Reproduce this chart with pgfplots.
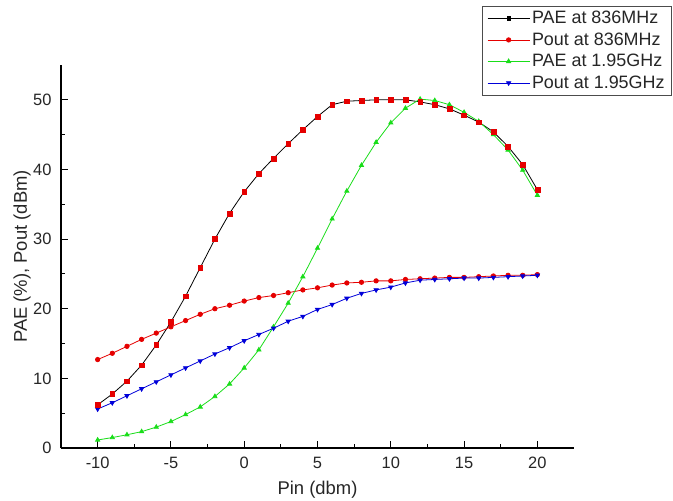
\documentclass[border=0pt]{standalone}
\usepackage{pgfplots}
\usepackage{pgfplotstable}
\pgfplotsset{compat=1.18}
\usepackage{fontspec}
\setmainfont{Liberation Sans}

% Pin  PAE836  Pout836  PAE195  Pout195
\pgfplotstableread{
x a b c d
-10 6.2 12.7 1.15 5.6
-9 7.75 13.6 1.5 6.5
-8 9.6 14.6 1.9 7.5
-7 11.9 15.6 2.35 8.5
-6 14.8 16.5 3.0 9.5
-5 18.1 17.4 3.8 10.5
-4 21.8 18.3 4.8 11.5
-3 25.9 19.2 5.9 12.5
-2 30.0 20.0 7.4 13.5
-1 33.7 20.5 9.2 14.4
0 36.8 21.1 11.5 15.4
1 39.4 21.6 14.1 16.3
2 41.6 21.9 17.4 17.2
3 43.7 22.3 20.8 18.2
4 45.7 22.7 24.6 18.9
5 47.6 23.0 28.7 19.9
6 49.3 23.4 32.9 20.6
7 49.8 23.7 36.9 21.5
8 49.9 23.8 40.6 22.2
9 50.0 24.0 43.9 22.7
10 50.0 24.0 46.7 23.1
11 50.0 24.2 48.8 23.7
12 49.7 24.3 50.1 24.1
13 49.3 24.4 49.9 24.2
14 48.7 24.5 49.3 24.3
15 47.8 24.5 48.2 24.4
16 46.8 24.6 46.9 24.4
17 45.4 24.7 45.0 24.5
18 43.3 24.8 42.8 24.6
19 40.7 24.8 39.9 24.7
20 37.1 24.9 36.3 24.8
}\datatable

\begin{document}
\begin{tikzpicture}
\begin{axis}[
    at={(61bp,53bp)}, anchor=south west,
    scale only axis,
    width=513bp, height=383bp,
    axis lines=left,
    axis line style={-, line width=1.1pt},
    xmin=-12.5, xmax=22.5,
    ymin=0, ymax=55,
    xtick={-10,-5,0,5,10,15,20},
    ytick={0,10,20,30,40,50},
    minor x tick num=1,
    minor y tick num=1,
    tick align=inside,
    major tick length=7bp,
    minor tick length=4bp,
    tick style={black, line width=0.9pt},
    /pgf/number format/assume math mode=true,
    ticklabel style={font=\fontsize{16.5}{19}\selectfont, text=black!85},
    yticklabel style={xshift=-6bp},
    xticklabel style={yshift=-6bp},
    xlabel={Pin (dbm)},
    ylabel={PAE (\%), Pout (dBm)},
    label style={font=\fontsize{18.5}{21}\selectfont, text=black!85},
    xlabel style={at={(axis description cs:0.5,-0.11)}, anchor=center},
    ylabel style={at={(axis description cs:-0.076,0.5)}, anchor=center},
    legend style={at={(axis description cs:1.191,1.154)}, anchor=north east,
        font=\fontsize{18}{21}\selectfont, text=black!85, draw=black!70, line width=0.8pt,
        inner xsep=5bp, inner ysep=3bp, row sep=3.5bp},
    legend cell align=left,
    legend image code/.code={
        \draw[mark repeat=2,mark phase=2] plot coordinates {(0bp,0bp) (21bp,0bp) (42bp,0bp)};
    },
]
\addplot[black, line width=0.8pt, mark=square*, mark size=1.6pt, mark options={solid}]
    table[x=x, y=a] {\datatable};
\addlegendentry{PAE at 836MHz}
\addplot[red!90!black, line width=0.8pt, mark=*, mark size=2.2pt]
    table[x=x, y=b] {\datatable};
\addlegendentry{Pout at 836MHz}
\addplot[green!85!black!90!white, line width=0.8pt, mark=triangle*, mark size=2.4pt]
    table[x=x, y=c] {\datatable};
\addlegendentry{PAE at 1.95GHz}
\addplot[blue!85!black, line width=0.8pt, mark=triangle*, mark size=2.4pt, mark options={rotate=180}]
    table[x=x, y=d] {\datatable};
\addlegendentry{Pout at 1.95GHz}
\addplot[only marks, red!90!black, mark=square*, mark size=2.4pt, forget plot]
    table[x=x, y=a] {\datatable};
\end{axis}
\pgfresetboundingbox
\useasboundingbox (0,0) rectangle (673bp,501bp);
\end{tikzpicture}
\end{document}
